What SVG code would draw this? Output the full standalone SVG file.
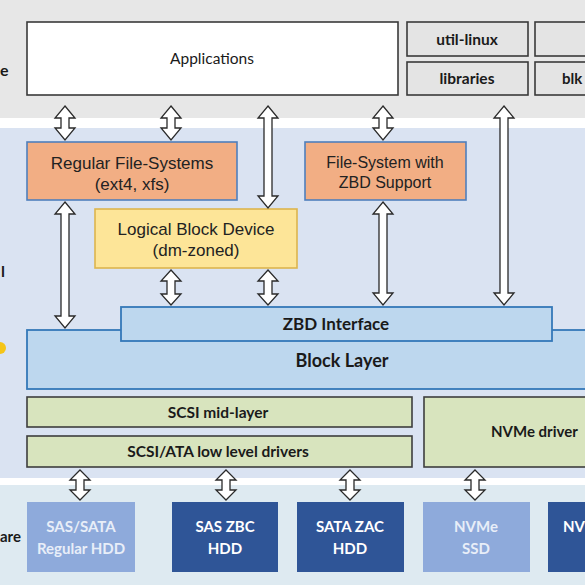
<svg xmlns="http://www.w3.org/2000/svg" width="585" height="585" viewBox="0 0 585 585">
<style>
.sans{font-family:"Liberation Sans",Arial,sans-serif;fill:#222}
.cal{font-family:Lato,"Open Sans",sans-serif;fill:#1a1a1a}
.b{font-weight:bold}
.app{fill:#fff;stroke:#3a3a3a;stroke-width:1.6}
.gray{fill:#e4e4e4;stroke:#3a3a3a;stroke-width:1.6}
.orange{fill:#f2ae84;stroke:#4f7fbc;stroke-width:1.6}
.yellow{fill:#fde598;stroke:#dcb54e;stroke-width:1.6}
.blue{fill:#bdd7ee;stroke:#3478b8;stroke-width:1.8}
.green{fill:#d8e4be;stroke:#3e3e3e;stroke-width:1.6}
.hwl{fill:#8eaadb}
.hwd{fill:#2f5597}
.hwt{font-family:Lato,"Open Sans",sans-serif;font-weight:bold;font-size:15px;fill:#fff}
.hwtl{font-family:Lato,"Open Sans",sans-serif;font-weight:bold;font-size:15px;fill:#e8eef8}
.arr{fill:#fff;stroke:#2a2a2a;stroke-width:1.3;stroke-linejoin:miter}
</style>
<!-- bands -->
<rect x="0" y="0" width="585" height="118" fill="#e7e7e7"/>
<rect x="0" y="118" width="585" height="10" fill="#fff"/>
<rect x="0" y="128" width="585" height="350" fill="#dae3f2"/>
<rect x="0" y="478" width="585" height="7" fill="#fff"/>
<rect x="0" y="485" width="585" height="100" fill="#deeaf1"/>
<!-- partial side labels -->
<text class="cal b" x="0" y="76" font-size="16">e</text>
<text class="cal b" x="1" y="277" font-size="16">l</text>
<circle cx="0" cy="348" r="6" fill="#f5c518"/>
<text class="cal b" x="0" y="542" font-size="15">are</text>

<g id="applications"><rect class="app" x="27" y="22" width="371" height="73"/><text class="cal" x="212" y="64" font-size="15.5" text-anchor="middle">Applications</text></g>
<g id="util-linux"><rect class="gray" x="407" y="22" width="121" height="34"/><text class="cal b" x="467" y="45" font-size="15.5" text-anchor="middle">util-linux</text></g>
<g id="libraries"><rect class="gray" x="407" y="62" width="121" height="33"/><text class="cal b" x="467" y="84" font-size="15.5" text-anchor="middle">libraries</text></g>
<g id="tool-top"><rect class="gray" x="535" y="22" width="70" height="34"/></g>
<g id="blk"><rect class="gray" x="535" y="62" width="70" height="33"/><text class="cal b" x="562" y="84" font-size="15">blk</text></g>

<g id="regular-fs"><rect class="orange" x="27" y="142" width="210" height="58"/><text class="sans" x="132" y="169" font-size="17" text-anchor="middle">Regular File-Systems</text><text class="sans" x="132" y="190" font-size="17" text-anchor="middle">(ext4, xfs)</text></g>
<g id="zbd-fs"><rect class="orange" x="305" y="142" width="161" height="58"/><text class="sans" x="385" y="168" font-size="16" text-anchor="middle">File-System with</text><text class="sans" x="385" y="188" font-size="16" text-anchor="middle">ZBD Support</text></g>
<g id="logical-block"><rect class="yellow" x="95" y="209" width="202" height="59"/><text class="sans" x="196" y="235" font-size="17" text-anchor="middle">Logical Block Device</text><text class="sans" x="196" y="256" font-size="17" text-anchor="middle">(dm-zoned)</text></g>

<g id="block-layer"><rect class="blue" x="27" y="330" width="570" height="59"/><text class="cal b" x="342" y="367" font-size="18" text-anchor="middle">Block Layer</text></g>
<g id="zbd-interface"><rect class="blue" x="121" y="307" width="431" height="34"/><text class="cal b" x="336" y="330" font-size="17" text-anchor="middle">ZBD Interface</text></g>

<g id="scsi-mid"><rect class="green" x="27" y="397" width="385" height="30"/><text class="cal b" x="218" y="418" font-size="15.5" text-anchor="middle">SCSI mid-layer</text></g>
<g id="scsi-ata"><rect class="green" x="27" y="436" width="385" height="31"/><text class="cal b" x="218" y="457" font-size="15.5" text-anchor="middle">SCSI/ATA low level drivers</text></g>
<g id="nvme-driver"><rect class="green" x="424" y="397" width="180" height="70"/><text class="cal b" x="491" y="437" font-size="15">NVMe driver</text></g>

<g id="hw-sas-sata"><rect class="hwl" x="27" y="502" width="108" height="70"/><text class="hwtl" x="81" y="532" text-anchor="middle">SAS/SATA</text><text class="hwtl" x="81" y="554" text-anchor="middle">Regular HDD</text></g>
<g id="hw-sas-zbc"><rect class="hwd" x="172" y="502" width="106" height="70"/><text class="hwt" x="225" y="532" text-anchor="middle">SAS ZBC</text><text class="hwt" x="225" y="554" text-anchor="middle">HDD</text></g>
<g id="hw-sata-zac"><rect class="hwd" x="297" y="502" width="107" height="70"/><text class="hwt" x="350" y="532" text-anchor="middle">SATA ZAC</text><text class="hwt" x="350" y="554" text-anchor="middle">HDD</text></g>
<g id="hw-nvme-ssd"><rect class="hwl" x="423" y="502" width="107" height="70"/><text class="hwtl" x="476" y="532" text-anchor="middle">NVMe</text><text class="hwtl" x="476" y="554" text-anchor="middle">SSD</text></g>
<g id="hw-nv"><rect class="hwd" x="548" y="502" width="60" height="70"/><text class="hwt" x="563" y="532">NV</text></g>

<g id="connectors">
<path class="arr" d="M65,106 L75,118 L69,118 L69,128 L75,128 L65,140 L55,128 L61,128 L61,118 L55,118 Z"/>
<path class="arr" d="M171,106 L181,118 L175,118 L175,128 L181,128 L171,140 L161,128 L167,128 L167,118 L161,118 Z"/>
<path class="arr" d="M268,106 L278,118 L272,118 L272,196 L278,196 L268,208 L258,196 L264,196 L264,118 L258,118 Z"/>
<path class="arr" d="M383,106 L393,118 L387,118 L387,128 L393,128 L383,140 L373,128 L379,128 L379,118 L373,118 Z"/>
<path class="arr" d="M504,106 L514,118 L508,118 L508,293 L514,293 L504,305 L494,293 L500,293 L500,118 L494,118 Z"/>
<path class="arr" d="M65,202 L75,214 L69,214 L69,316 L75,316 L65,328 L55,316 L61,316 L61,214 L55,214 Z"/>
<path class="arr" d="M171,270 L181,281 L175,281 L175,294 L181,294 L171,305 L161,294 L167,294 L167,281 L161,281 Z"/>
<path class="arr" d="M268,270 L278,281 L272,281 L272,294 L278,294 L268,305 L258,294 L264,294 L264,281 L258,281 Z"/>
<path class="arr" d="M383,202 L393,214 L387,214 L387,293 L393,293 L383,305 L373,293 L379,293 L379,214 L373,214 Z"/>
<path class="arr" d="M80,470 L90,480 L84,480 L84,490 L90,490 L80,500 L70,490 L76,490 L76,480 L70,480 Z"/>
<path class="arr" d="M226,470 L236,480 L230,480 L230,490 L236,490 L226,500 L216,490 L222,490 L222,480 L216,480 Z"/>
<path class="arr" d="M350,470 L360,480 L354,480 L354,490 L360,490 L350,500 L340,490 L346,490 L346,480 L340,480 Z"/>
<path class="arr" d="M475,470 L485,480 L479,480 L479,490 L485,490 L475,500 L465,490 L471,490 L471,480 L465,480 Z"/>
</g>
</svg>
